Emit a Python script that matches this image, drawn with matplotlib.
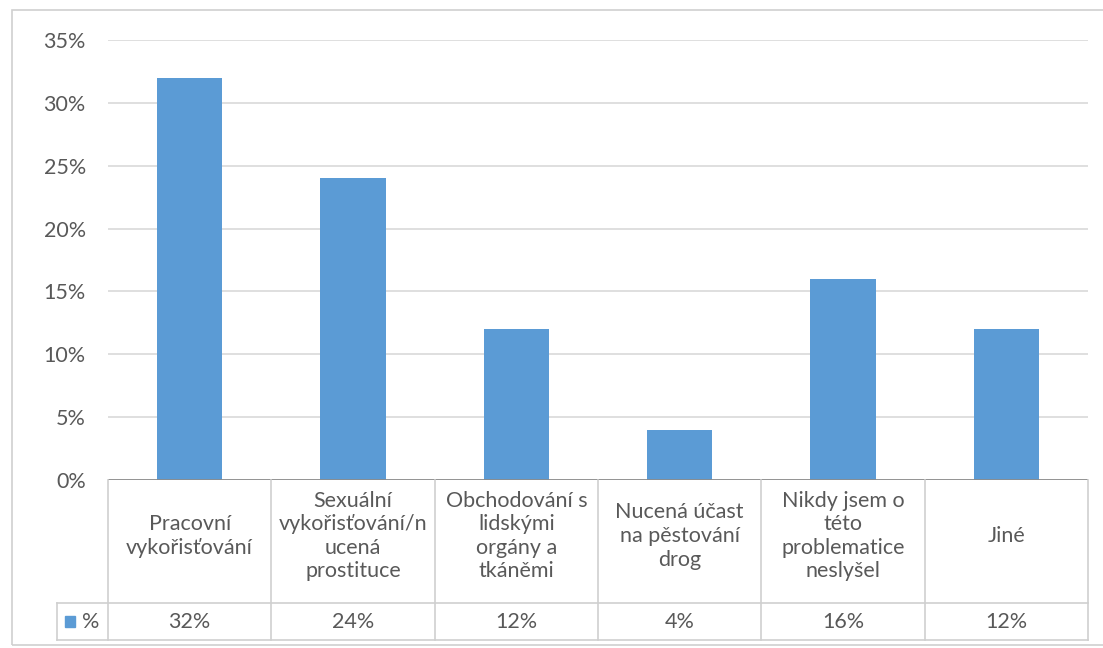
import matplotlib.pyplot as plt
from matplotlib.patches import Rectangle
from matplotlib.lines import Line2D

plt.rcParams['font.family'] = ['Lato', 'DejaVu Sans']

categories = ["Pracovní\nvykořisťování",
              "Sexuální\nvykořisťování/n\nucená\nprostituce",
              "Obchodování s\nlidskými\norgány a\ntkáněmi",
              "Nucená účast\nna pěstování\ndrog",
              "Nikdy jsem o\ntéto\nproblematice\nneslyšel",
              "Jiné"]
values = [0.32, 0.24, 0.12, 0.04, 0.16, 0.12]
value_labels = ["32%", "24%", "12%", "4%", "16%", "12%"]
series_name = "%"
yticks = [0, 0.05, 0.10, 0.15, 0.20, 0.25, 0.30, 0.35]

W, H = 1103, 648
bar_color = "#5B9BD5"
text_color = "#595959"
grid_color = "#D9D9D9"
fs = 15.5

fig = plt.figure(figsize=(W / 100, H / 100), dpi=100)

def fx(px):
    return px / W

def fy(py):
    return 1 - py / H

# outer chart frame
fig.add_artist(Rectangle((fx(12), fy(645)), fx(1110) - fx(12), fy(10) - fy(645),
                         transform=fig.transFigure, fill=False,
                         edgecolor="#D0D0D0", linewidth=1.2))

left, right, top, bottom = 108, 1088, 40, 480
ax = fig.add_axes([fx(left), fy(bottom), fx(right) - fx(left), fy(top) - fy(bottom)])

x = range(len(values))
ax.bar(x, values, width=0.4, color=bar_color, zorder=3)
ax.set_xlim(-0.5, len(values) - 0.5)
ax.set_ylim(0, 0.35)
ax.set_yticks(yticks)
ax.set_yticklabels([f"{int(round(t * 100))}%" for t in yticks], color=text_color, fontsize=fs)
ax.tick_params(axis="y", length=0, pad=16)
ax.set_xticks([])
ax.grid(axis="y", color=grid_color, linewidth=1.2, zorder=0)
for s in ax.spines.values():
    s.set_visible(False)
ax.axhline(0, color="#8C8C8C", linewidth=2, zorder=4)

# data table
col_w = (right - left) / len(values)
row1, row2 = 603, 640
lines = []
for i in range(len(values) + 1):
    xp = left + i * col_w
    lines.append(([xp, xp], [bottom, row2]))
lines.append(([57, right], [row1, row1]))
lines.append(([57, right], [row2, row2]))
lines.append(([57, 57], [row1, row2]))
for xs, ys in lines:
    fig.add_artist(Line2D([fx(v) for v in xs], [fy(v) for v in ys],
                          transform=fig.transFigure, color="#CFCFCF", linewidth=1.2))

for i, (cat, lab) in enumerate(zip(categories, value_labels)):
    cx = left + (i + 0.5) * col_w
    fig.text(fx(cx), fy(536), cat, ha="center", va="center",
             color=text_color, fontsize=fs, linespacing=1.22)
    fig.text(fx(cx), fy((row1 + row2) / 2), lab, ha="center", va="center",
             color=text_color, fontsize=fs)

fig.add_artist(Rectangle((fx(65), fy(627)), fx(10), fy(0) - fy(11),
                         transform=fig.transFigure, color=bar_color))
fig.text(fx(82), fy((row1 + row2) / 2), series_name, ha="left", va="center",
         color=text_color, fontsize=fs)

fig.savefig("out.png", dpi=100)
